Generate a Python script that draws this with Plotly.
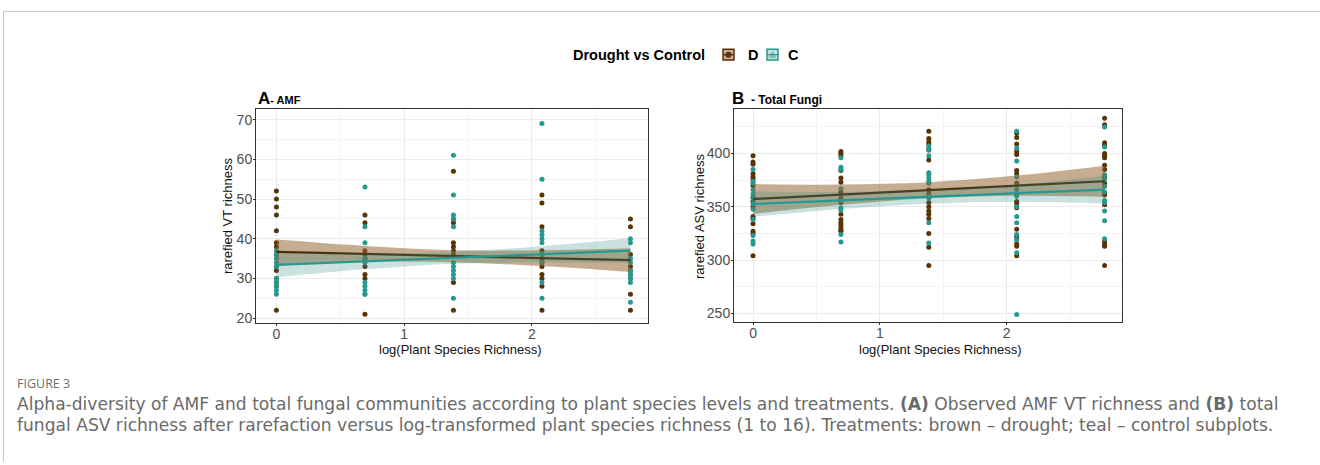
import numpy as np
import plotly.graph_objects as go

W, H = 1320, 465

# ---------------- data ----------------
richness_levels = [1, 2, 4, 8, 16]
x_levels = list(np.log(richness_levels))

# Panel A: rarefied AMF VT richness, per plant richness level
amf_drought = [
    [52, 50, 48, 46, 42, 39, 38, 36, 33, 32, 30, 29, 28, 22],
    [46, 44, 37, 36, 35, 33, 31, 30, 21],
    [57, 45, 44, 39, 38, 37, 36, 29, 22],
    [51, 49, 43, 37, 35, 34, 33, 31, 30, 28, 22],
    [45, 43, 36, 33, 32, 31, 30, 26, 22],
]
amf_control = [
    [37, 36, 35, 34, 33, 30, 29, 28, 27, 26],
    [53, 43, 39, 35, 34, 29, 28, 27, 26, 26],
    [61, 51, 46, 45, 43, 34, 33, 32, 31, 30, 25],
    [69, 55, 42, 41, 40, 39, 36, 34, 29, 25],
    [40, 39, 35, 34, 32, 31, 30, 29, 24],
]
# Panel B: rarefied total fungal ASV richness
fungi_drought = [
    [398, 392, 390, 381, 378, 376, 370, 359, 355, 350, 341, 339, 334, 327, 325, 304],
    [402, 400, 398, 384, 377, 373, 364, 358, 354, 343, 338, 335, 333, 330, 328, 327],
    [421, 414, 411, 409, 404, 394, 366, 362, 354, 350, 346, 343, 339, 325, 312, 295],
    [419, 415, 409, 402, 399, 384, 381, 372, 362, 355, 353, 349, 329, 322, 315, 313, 304],
    [433, 427, 410, 408, 400, 398, 396, 389, 385, 378, 372, 362, 361, 352, 318, 315, 313, 295],
]
fungi_control = [
    [385, 374, 372, 366, 362, 358, 353, 348, 338, 323, 318, 315],
    [396, 387, 385, 367, 356, 349, 347, 324, 317],
    [407, 403, 398, 382, 380, 377, 374, 372, 360, 358, 335, 316],
    [421, 405, 393, 378, 370, 366, 360, 350, 341, 335, 324, 319, 307, 249],
    [425, 406, 380, 376, 369, 364, 356, 354, 346, 337, 320],
]

# fitted lines and 95% bands read at each level
amf_drought_fit = [36.7, 36.2, 35.6, 35.1, 34.6]
amf_drought_lo = [33.6, 34.2, 34.1, 33.1, 31.6]
amf_drought_hi = [39.8, 38.2, 37.1, 37.1, 37.6]
amf_control_fit = [33.4, 34.3, 35.2, 36.1, 37.0]
amf_control_lo = [30.3, 32.3, 33.7, 34.1, 33.9]
amf_control_hi = [36.5, 36.3, 36.7, 38.1, 40.1]

fungi_drought_fit = [357.3, 361.4, 365.6, 369.8, 374.0]
fungi_drought_lo = [343.3, 351.9, 358.1, 360.3, 359.5]
fungi_drought_hi = [371.3, 370.9, 373.1, 379.3, 388.5]
fungi_control_fit = [352.6, 356.0, 359.4, 362.8, 366.2]
fungi_control_lo = [340.6, 348.0, 352.9, 354.8, 353.2]
fungi_control_hi = [364.6, 364.0, 365.9, 370.8, 379.2]

group_names = ["D", "C"]
y_ticks_A = [20, 30, 40, 50, 60, 70]
y_ticks_B = [250, 300, 350, 400]
x_ticks = [0, 1, 2]

# ---------------- style ----------------
BROWN = "#5a3307"
BROWN_LINE = "#4c2c08"
TEAL = "#26998f"
BROWN_BAND = "rgba(145,98,45,0.52)"
TEAL_BAND = "rgba(50,140,130,0.26)"


def px(x):
    return x / W


def py(y):
    return 1 - y / H


fig = go.Figure()


def add_panel(xa, ya, drought, control, dfit, dlo, dhi, cfit, clo, chi):
    for vals, col in ((drought, BROWN), (control, TEAL)):
        xs, ys = [], []
        for xv, lst in zip(x_levels, vals):
            xs += [xv] * len(lst)
            ys += lst
        fig.add_trace(go.Scatter(x=xs, y=ys, mode="markers", xaxis=xa, yaxis=ya,
                                 marker=dict(color=col, size=5, line=dict(width=0)),
                                 showlegend=False, hoverinfo="skip"))
    for fit, lo, hi, col, band in ((dfit, dlo, dhi, BROWN_LINE, BROWN_BAND),
                                   (cfit, clo, chi, TEAL, TEAL_BAND)):
        fig.add_trace(go.Scatter(x=x_levels, y=hi, mode="lines", xaxis=xa, yaxis=ya,
                                 line=dict(width=0, shape="spline"), showlegend=False,
                                 hoverinfo="skip"))
        fig.add_trace(go.Scatter(x=x_levels, y=lo, mode="lines", xaxis=xa, yaxis=ya,
                                 line=dict(width=0, shape="spline"), fill="tonexty",
                                 fillcolor=band, showlegend=False, hoverinfo="skip"))
        fig.add_trace(go.Scatter(x=x_levels, y=fit, mode="lines", xaxis=xa, yaxis=ya,
                                 line=dict(color=col, width=2.2), showlegend=False,
                                 hoverinfo="skip"))


add_panel("x", "y", amf_drought, amf_control, amf_drought_fit, amf_drought_lo,
          amf_drought_hi, amf_control_fit, amf_control_lo, amf_control_hi)
add_panel("x2", "y2", fungi_drought, fungi_control, fungi_drought_fit, fungi_drought_lo,
          fungi_drought_hi, fungi_control_fit, fungi_control_lo, fungi_control_hi)

AF = "Liberation Sans"
axis_common = dict(showline=True, mirror=True, linecolor="#333333", linewidth=1,
                   ticks="outside", ticklen=2, tickcolor="#333333", zeroline=False,
                   showgrid=True, gridcolor="#ebebeb", gridwidth=1,
                   tickfont=dict(family=AF, size=14, color="#4d4d4d"))

yA_dom = [py(325), py(110)]
yB_dom = [py(324), py(110)]

fig.update_layout(
    width=W, height=H, margin=dict(l=0, r=0, t=0, b=0),
    paper_bgcolor="white", plot_bgcolor="white", showlegend=False,
    xaxis=dict(domain=[px(256), px(648)], range=[-0.16, 2.91], tickvals=x_ticks,
               anchor="y", ticklabelstandoff=-4,
               minor=dict(tickvals=[0.5, 1.5, 2.5], showgrid=True,
                          gridcolor="#f3f3f3", ticks=""), **axis_common),
    yaxis=dict(domain=yA_dom, range=[18.8, 72.6], tickvals=y_ticks_A, anchor="x",
               ticklabelstandoff=-2,
               minor=dict(tickvals=[25, 35, 45, 55, 65], showgrid=True,
                          gridcolor="#f3f3f3", ticks=""), **axis_common),
    xaxis2=dict(domain=[px(734), px(1122)], range=[-0.15, 2.91], tickvals=x_ticks,
                anchor="y2", ticklabelstandoff=-4,
                minor=dict(tickvals=[0.5, 1.5, 2.5], showgrid=True,
                           gridcolor="#f3f3f3", ticks=""), **axis_common),
    yaxis2=dict(domain=yB_dom, range=[242, 441.5], tickvals=y_ticks_B, anchor="x2",
                ticklabelstandoff=-2,
                minor=dict(tickvals=[275, 325, 375, 425], showgrid=True,
                           gridcolor="#f3f3f3", ticks=""), **axis_common),
)

ann = []
# axis titles
for xc, txt in ((460, "log(Plant Species Richness)"), (940, "log(Plant Species Richness)")):
    ann.append(dict(x=px(xc), y=py(351.5), xref="paper", yref="paper", text=txt,
                    showarrow=False, font=dict(family=AF, size=13, color="#111"),
                    xanchor="center", yanchor="middle"))
for xc, txt in ((227, "rarefied VT richness"), (699, "rarefied ASV richness")):
    ann.append(dict(x=px(xc), y=py(217.5), xref="paper", yref="paper", text=txt,
                    textangle=-90, showarrow=False, font=dict(family=AF, size=13, color="#111"),
                    xanchor="center", yanchor="middle"))
# panel titles
ann.append(dict(x=px(256), y=py(99), xref="paper", yref="paper",
                text="<b>A</b><span style='font-size:11px'><b>- AMF</b></span>",
                showarrow=False, font=dict(family=AF, size=17, color="#000"),
                xanchor="left", yanchor="middle"))
ann.append(dict(x=px(730), y=py(99), xref="paper", yref="paper",
                text="<b>B</b><span style='font-size:12px'><b>  - Total Fungi</b></span>",
                showarrow=False, font=dict(family=AF, size=17, color="#000"),
                xanchor="left", yanchor="middle"))
# legend
ann.append(dict(x=px(707), y=py(55), xref="paper", yref="paper", text="<b>Drought vs Control</b>",
                showarrow=False, font=dict(family=AF, size=14.5, color="#000"),
                xanchor="right", yanchor="middle"))
ann.append(dict(x=px(746), y=py(55), xref="paper", yref="paper", text="<b>%s</b>" % group_names[0],
                showarrow=False, font=dict(family=AF, size=14.5, color="#000"),
                xanchor="left", yanchor="middle"))
ann.append(dict(x=px(786), y=py(55), xref="paper", yref="paper", text="<b>%s</b>" % group_names[1],
                showarrow=False, font=dict(family=AF, size=14.5, color="#000"),
                xanchor="left", yanchor="middle"))
# caption
CF = "DejaVu Sans"
ann.append(dict(x=px(15), y=py(386), xref="paper", yref="paper", text="FIGURE 3",
                showarrow=False, font=dict(family="Open Sans", size=12.5, color="#6f6f6f"),
                xanchor="left", yanchor="middle"))
ann.append(dict(x=px(15), y=py(407), xref="paper", yref="paper",
                text="Alpha-diversity of AMF and total fungal communities according to plant species levels and treatments. <b>(A)</b> Observed AMF VT richness and <b>(B)</b> total",
                showarrow=False, font=dict(family=CF, size=17.1, color="#6a6a6a"),
                xanchor="left", yanchor="middle"))
ann.append(dict(x=px(15), y=py(428), xref="paper", yref="paper",
                text="fungal ASV richness after rarefaction versus log-transformed plant species richness (1 to 16). Treatments: brown \u2013 drought; teal \u2013 control subplots.",
                showarrow=False, font=dict(family=CF, size=17.1, color="#6a6a6a"),
                xanchor="left", yanchor="middle"))
fig.update_layout(annotations=ann)

shapes = []
# outer frame lines
shapes.append(dict(type="line", xref="paper", yref="paper", x0=px(3), x1=1, y0=py(11.5), y1=py(11.5),
                   line=dict(color="#c4c4c4", width=1)))
shapes.append(dict(type="line", xref="paper", yref="paper", x0=px(3.5), x1=px(3.5), y0=py(11.5), y1=0,
                   line=dict(color="#c4c4c4", width=1)))
# legend keys
shapes.append(dict(type="rect", xref="paper", yref="paper", x0=px(723), x1=px(734), y0=py(60.5), y1=py(49.5),
                   fillcolor=BROWN_BAND, line=dict(color=BROWN, width=1.5)))
shapes.append(dict(type="line", xref="paper", yref="paper", x0=px(723), x1=px(734), y0=py(55), y1=py(55),
                   line=dict(color=BROWN, width=1.5)))
shapes.append(dict(type="circle", xref="paper", yref="paper", x0=px(725.5), x1=px(731.5), y0=py(58), y1=py(52),
                   fillcolor=BROWN, line=dict(width=0)))
shapes.append(dict(type="rect", xref="paper", yref="paper", x0=px(767), x1=px(778), y0=py(60.5), y1=py(49.5),
                   fillcolor=TEAL_BAND, line=dict(color=TEAL, width=1.5)))
shapes.append(dict(type="path", xref="paper", yref="paper",
                   path="M %f,%f L %f,%f L %f,%f Z" % (px(768.5), py(58.5), px(776.5), py(58.5), px(772.5), py(51)),
                   fillcolor="rgba(120,185,178,0.9)", line=dict(width=0)))
shapes.append(dict(type="line", xref="paper", yref="paper", x0=px(767), x1=px(778), y0=py(55), y1=py(55),
                   line=dict(color=TEAL, width=1.2)))
fig.update_layout(shapes=shapes)

fig.write_html("out.html")
